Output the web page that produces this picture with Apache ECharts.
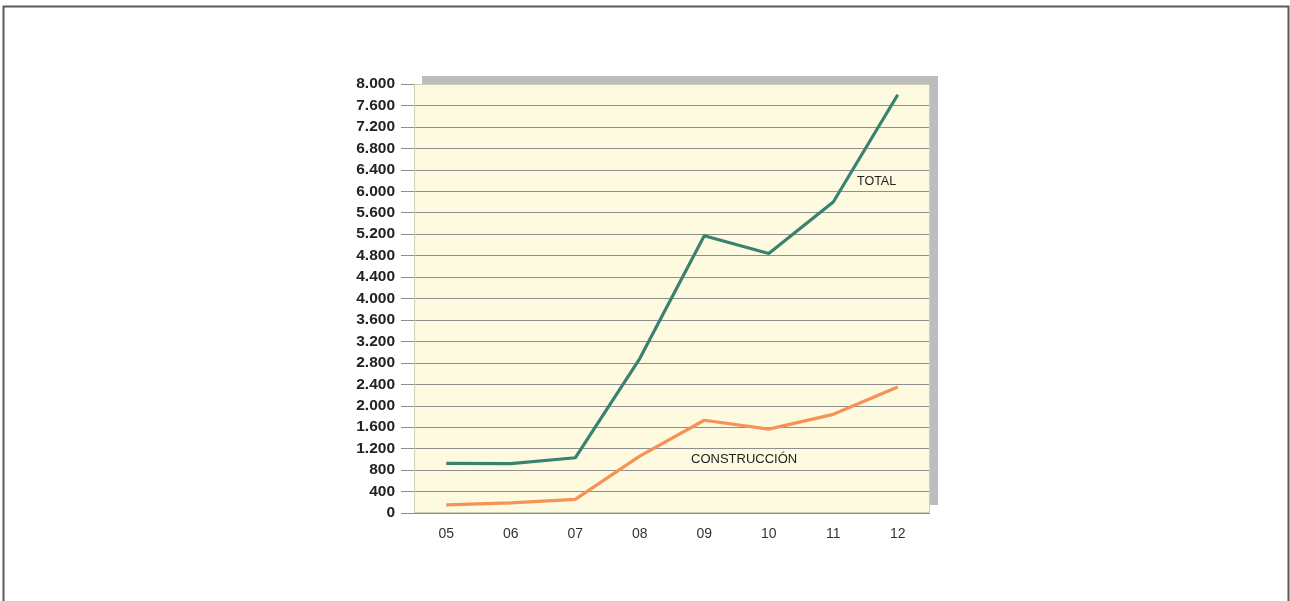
<!DOCTYPE html>
<html>
<head>
<meta charset="utf-8">
<style>
html,body{margin:0;padding:0;background:#fff;}
#chart{width:1290px;height:601px;}
</style>
<script src="https://cdn.jsdelivr.net/npm/echarts@6/dist/echarts.min.js"></script>
</head>
<body>
<div id="chart"></div>
<script>
const categories = ['05','06','07','08','09','10','11','12'];
const totalValues = [925, 920, 1030, 2880, 5170, 4840, 5800, 7800];
const construccionValues = [150, 190, 255, 1060, 1730, 1565, 1840, 2350];
const yTicks = [0,400,800,1200,1600,2000,2400,2800,3200,3600,4000,4400,4800,5200,5600,6000,6400,6800,7200,7600,8000];
const seriesNames = ['TOTAL', 'CONSTRUCCIÓN'];

function fmt(v){
  return String(v).replace(/\B(?=(\d{3})+(?!\d))/g, '.');
}

const G = {left:414, top:84, right:360, bottom:88};
const W = 1290, H = 601;

const chart = echarts.init(document.getElementById('chart'), null, {renderer:'canvas'});
chart.setOption({
  animation:false,
  backgroundColor:'#ffffff',
  grid:{
    left:G.left, top:G.top, right:G.right, bottom:G.bottom,
    show:true,
    backgroundColor:'#fefadf',
    borderWidth:0,
    shadowColor:'#bcbdc0',
    shadowBlur:0,
    shadowOffsetX:8,
    shadowOffsetY:-8
  },
  xAxis:{
    type:'category',
    data:categories,
    boundaryGap:true,
    axisLine:{show:false},
    axisTick:{show:false},
    axisLabel:{margin:14, color:'#333', fontSize:14, fontFamily:'Liberation Sans Narrow, Liberation Sans, Arial, sans-serif'},
    splitLine:{show:false}
  },
  yAxis:{
    type:'value',
    min:yTicks[0], max:yTicks[yTicks.length-1], interval:yTicks[1]-yTicks[0],
    axisLine:{show:false},
    axisTick:{show:true, length:13, lineStyle:{color:'#8e8e8e', width:1}},
    axisLabel:{margin:19, color:'#222', fontSize:15.5, fontWeight:'bold', padding:[2,0,0,0], fontFamily:'Liberation Sans, Arial, sans-serif', formatter:fmt},
    splitLine:{show:true, lineStyle:{color:'#8e8e8e', width:1}}
  },
  series:[
    {name:seriesNames[0], type:'line', data:totalValues, symbol:'none', lineStyle:{color:'#3a8270', width:3.2}},
    {name:seriesNames[1], type:'line', data:construccionValues, symbol:'none', lineStyle:{color:'#f79257', width:3.2}}
  ],
  graphic:[
    {type:'rect', shape:{x:G.left+0.5, y:G.top+0.5, width:W-G.left-G.right-1, height:H-G.top-G.bottom-1}, style:{fill:null, stroke:'#d2cdb4', lineWidth:1}, silent:true, z:1},
    {type:'rect', shape:{x:3.5, y:6.5, width:1285, height:620}, style:{fill:null, stroke:'#5a5a5a', lineWidth:2}, silent:true, z:100},
    {type:'text', left:857, top:175, style:{text:seriesNames[0], fontSize:12.5, fill:'#222', fontFamily:'Liberation Sans, Arial, sans-serif'}, z:100},
    {type:'text', left:691, top:453, style:{text:seriesNames[1], fontSize:13, fill:'#222', fontFamily:'Liberation Sans, Arial, sans-serif'}, z:100}
  ]
});
</script>
</body>
</html>
